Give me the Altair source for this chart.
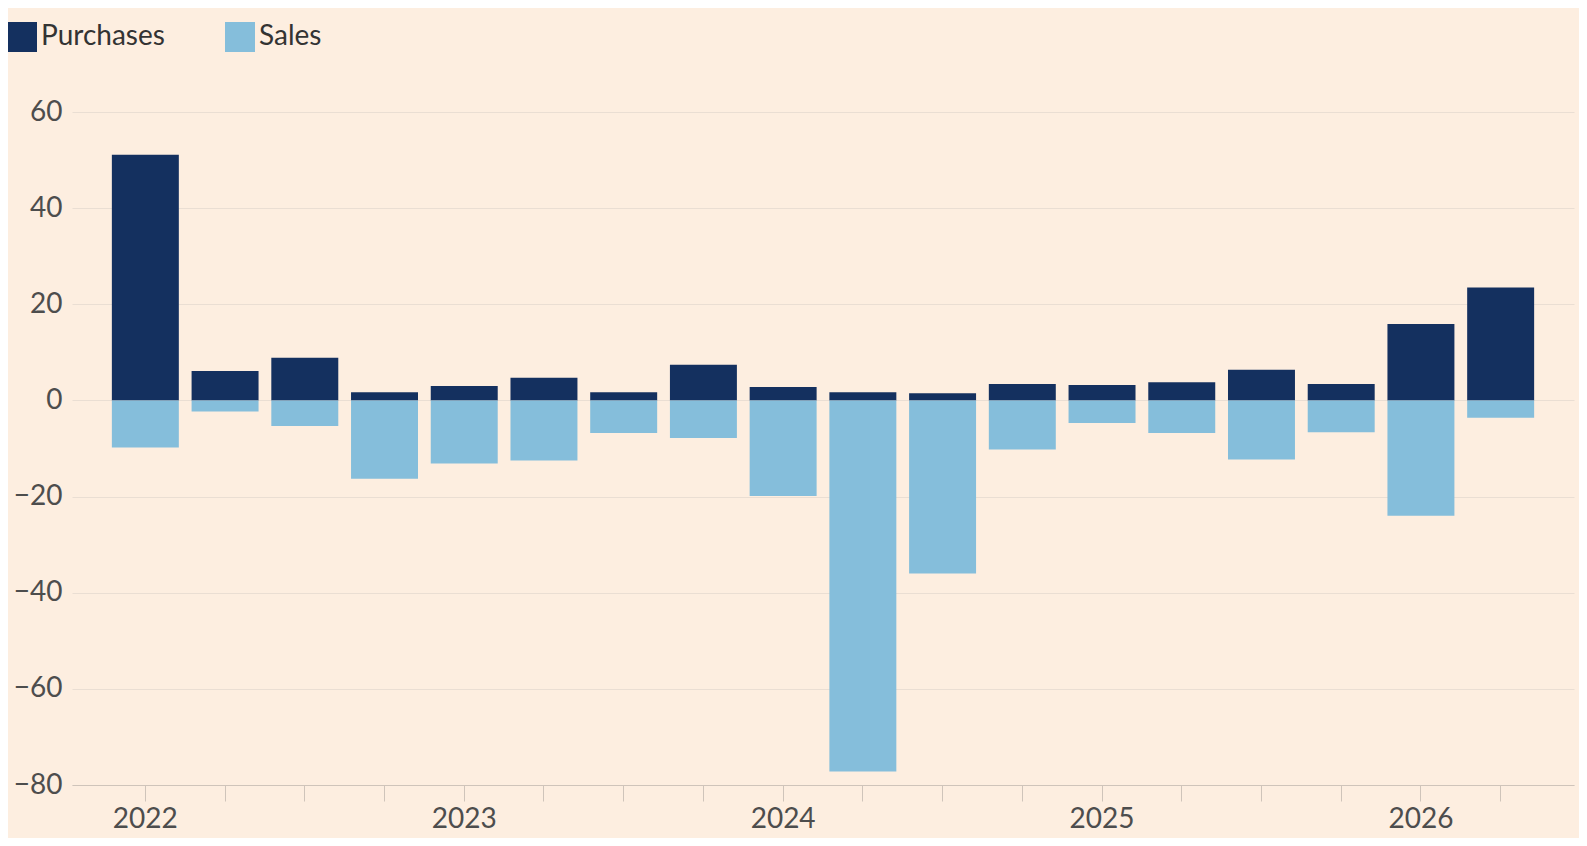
import altair as alt
import pandas as pd

quarters = [f"{y} Q{q}" for y in range(2022, 2027) for q in range(1, 5)][:18]
purchases = [51.1, 6.1, 8.9, 1.7, 3.0, 4.7, 1.7, 7.4, 2.8, 1.7, 1.5, 3.4, 3.2, 3.8, 6.4, 3.4, 15.9, 23.5]
sales = [-9.8, -2.3, -5.3, -16.3, -13.1, -12.5, -6.8, -7.8, -19.9, -77.2, -36.0, -10.2, -4.7, -6.8, -12.3, -6.6, -24.0, -3.6]

df = pd.DataFrame({"quarter": quarters, "Purchases": purchases, "Sales": sales})

chart = alt.Chart(df).transform_fold(["Purchases", "Sales"], as_=["series", "value"]).mark_bar().encode(
    x=alt.X("quarter:O", sort=quarters, title=None,
            scale=alt.Scale(paddingInner=0.16, paddingOuter=0.5),
            axis=alt.Axis(labelExpr="slice(datum.value, 5) == 'Q1' ? slice(datum.value, 0, 4) : ''",
                          labelAngle=0, labelFontSize=28, labelColor="#4d4d4d", labelFont="Lato",
                          tickColor="#cfc4ba", domainColor="#cfc4ba", tickSize=16, labelPadding=4)),
    y=alt.Y("value:Q", title=None, stack=True,
            scale=alt.Scale(domain=[-80, 60], nice=False),
            axis=alt.Axis(values=[-80, -60, -40, -20, 0, 20, 40, 60], labelFontSize=28,
                          labelColor="#4d4d4d", labelFont="Lato", domain=False, ticks=False,
                          gridColor="#eaded3", labelPadding=10)),
    color=alt.Color("series:N", scale=alt.Scale(domain=["Purchases", "Sales"], range=["#14305f", "#85bedb"]),
                    legend=alt.Legend(title=None, orient="none", direction="horizontal", symbolType="square",
                                      symbolSize=900, labelFontSize=28, labelColor="#333333", labelFont="Lato",
                                      columnPadding=60, padding=0, legendY=-90, legendX=-65,
                                      symbolStrokeWidth=0, symbolOpacity=1)),
    order=alt.Order("series:N"),
).properties(
    width=1571, height=830,
    autosize=alt.AutoSizeParams(type="fit", contains="padding"),
    padding={"top": 90, "left": 5, "right": 5, "bottom": 5},
).configure(background="#fdeee0").configure_view(stroke=None)

chart.save("out.html", embed_options={"renderer": "svg", "actions": False})
